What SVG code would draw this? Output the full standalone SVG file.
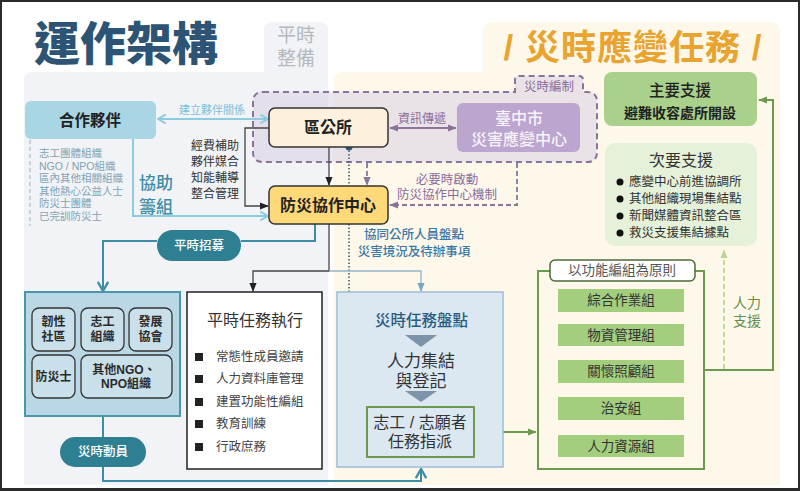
<svg xmlns="http://www.w3.org/2000/svg" width="800" height="491" viewBox="0 0 800 491">
<style>
text{font-family:"Liberation Sans","Noto Sans CJK TC","Noto Sans CJK SC",sans-serif;dominant-baseline:central;text-anchor:middle;fill:#333}
.st{text-anchor:start}
.b{font-weight:700}
.m{font-weight:500}
.lst{font-size:10.5px;fill:#7fa3b5}
.pur{fill:#8a6d9e;font-size:12.5px}
.sq{fill:#222}
.unit{fill:#c9dfe9;stroke:#333;stroke-width:1.3}
.unit-t{font-size:12px;font-weight:700;fill:#2a2a2a}
.bar{fill:#a2ce7e}
.bar-t{font-size:13.5px;fill:#333}
.pill{fill:#2f7f93}
.pill-t{font-size:12.5px;fill:#fff;font-weight:500}
.tri{fill:#7d93aa}
.lb{fill:none;stroke:#8ccbe0;stroke-width:2}
.dk{fill:none;stroke:#444;stroke-width:1.3}
.pl{fill:none;stroke:#8b7399;stroke-width:1.8}
.pld{fill:none;stroke:#8b7399;stroke-width:1.8;stroke-dasharray:5 3}
.tl{fill:none;stroke:#3d8ea5;stroke-width:2}
.gr{fill:none;stroke:#6e9a4f;stroke-width:2}
</style>
<defs>
<marker id="aLb" viewBox="0 0 10 10" refX="9" refY="5" markerWidth="11" markerHeight="11" markerUnits="userSpaceOnUse" orient="auto-start-reverse"><path d="M2,1 L9,5 L2,9" fill="none" stroke="#8ccbe0" stroke-width="1.8"/></marker>
<marker id="aTl" viewBox="0 0 10 10" refX="9" refY="5" markerWidth="13" markerHeight="13" markerUnits="userSpaceOnUse" orient="auto-start-reverse"><path d="M2,1 L9,5 L2,9" fill="none" stroke="#3d8ea5" stroke-width="1.8"/></marker>
<marker id="aBk" viewBox="0 0 10 10" refX="9" refY="5" markerWidth="9" markerHeight="9" markerUnits="userSpaceOnUse" orient="auto-start-reverse"><path d="M0,1 L10,5 L0,9 z" fill="#222"/></marker>
<marker id="aPu" viewBox="0 0 10 10" refX="9" refY="5" markerWidth="9" markerHeight="9" markerUnits="userSpaceOnUse" orient="auto-start-reverse"><path d="M0,1 L10,5 L0,9 z" fill="#8b7399"/></marker>
<marker id="aGr" viewBox="0 0 10 10" refX="9" refY="5" markerWidth="9" markerHeight="9" markerUnits="userSpaceOnUse" orient="auto-start-reverse"><path d="M0,1 L10,5 L0,9 z" fill="#6e9a4f"/></marker>
<marker id="aLg" viewBox="0 0 10 10" refX="9" refY="5" markerWidth="9" markerHeight="9" markerUnits="userSpaceOnUse" orient="auto-start-reverse"><path d="M0,1 L10,5 L0,9 z" fill="#bcd597"/></marker>
<marker id="aBl" viewBox="0 0 10 10" refX="9" refY="5" markerWidth="9" markerHeight="9" markerUnits="userSpaceOnUse" orient="auto-start-reverse"><path d="M0,1 L10,5 L0,9 z" fill="#7aa2c4"/></marker>
</defs>

<rect width="800" height="491" fill="#fff"/>

<!-- background panels -->
<g id="bg-peace">
<path d="M24,80 Q24,72 32,72 L264,72 L264,30 Q264,22 272,22 L320,22 Q328,22 328,30 L328,485 L24,485 Z" fill="#f1f3f6"/>
</g>
<g id="bg-disaster">
<path d="M333,82 Q333,72 343,72 L483,72 L483,32 Q483,22 493,22 L770,22 Q780,22 780,32 L780,485 L333,485 Z" fill="#fdf8ea"/>
</g>

<!-- titles -->
<g id="titles">
<text x="126" y="44" class="b" style="font-size:46px;fill:#2d5475;font-weight:900">運作架構</text>
<text x="296" y="35" style="font-size:19px;fill:#b5b9bd">平時</text>
<text x="296" y="58" style="font-size:19px;fill:#b5b9bd">整備</text>
<text x="633" y="47" class="b" style="font-size:35px;fill:#e9a32f;letter-spacing:1px">/ 災時應變任務 /</text>
</g>

<!-- dashed disaster-organization region -->
<g id="wartime-region">
<path d="M263,92 L515,92 L515,80 Q515,76 519,76 L579,76 Q583,76 583,80 L583,92 L587,92 Q597,92 597,102 L597,152 Q597,162 587,162 L263,162 Q253,162 253,152 L253,102 Q253,92 263,92 Z" fill="#d9d0e2" fill-opacity="0.55" stroke="#8b7399" stroke-width="2" stroke-dasharray="6 4"/>
<text x="549" y="87" class="pur" style="font-size:12.5px">災時編制</text>
</g>

<!-- connectors -->
<g id="connectors">
<path class="lb" d="M158,119 H268" marker-start="url(#aLb)" marker-end="url(#aLb)"/>
<path class="lb" d="M133,139 V216 H268" marker-end="url(#aLb)"/>
<path class="dk" d="M269,128 H245 V206 H268" marker-end="url(#aBk)"/>
<path class="dk" d="M329,147 V185" marker-end="url(#aBk)"/>
<path class="pl" d="M390,128 H456" marker-start="url(#aPu)" marker-end="url(#aPu)"/>
<path class="pld" d="M367,163 V185" marker-end="url(#aPu)"/>
<path class="pld" d="M517,163 V205 H390" marker-end="url(#aPu)"/>
<path d="M349,147 V320 H362" fill="none" stroke="#2e5877" stroke-width="1.5" stroke-dasharray="1.5 2"/>
<circle cx="349" cy="147" r="3.5" fill="#2e5877"/>
<circle cx="366" cy="320" r="3.5" fill="#2e5877"/>
<path class="tl" d="M315,224 V241 H241"/>
<path class="tl" d="M157,241 H103 V291" marker-end="url(#aTl)"/>
<path class="dk" d="M329,224 V271 H253 V291" marker-end="url(#aBk)"/>
<path d="M329,271 H421 V291" fill="none" stroke="#93b4cc" stroke-width="1.3" marker-end="url(#aBl)"/>
<path class="tl" d="M103,416 V437"/>
<path class="tl" d="M103,467 V481 H421 V469" marker-end="url(#aTl)"/>
<path class="gr" d="M474,432 H536" marker-end="url(#aGr)"/>
<path class="gr" d="M704,370 H773 V100 H759" marker-end="url(#aGr)"/>
<path d="M724,369 V250" fill="none" stroke="#bcd597" stroke-width="1.8" stroke-dasharray="5 3" marker-end="url(#aLg)"/>
</g>

<!-- connector labels -->
<g id="labels">
<text x="212" y="110" style="font-size:11px;fill:#7fbfd6">建立夥伴關係</text>
<text x="215" y="146" style="font-size:12px">經費補助</text>
<text x="215" y="162" style="font-size:12px">夥伴媒合</text>
<text x="215" y="178" style="font-size:12px">知能輔導</text>
<text x="215" y="194" style="font-size:12px">整合管理</text>
<text x="156" y="183" class="m" style="font-size:17px;fill:#3d8da4">協助</text>
<text x="156" y="207" class="m" style="font-size:17px;fill:#3d8da4">籌組</text>
<text x="422" y="119" class="pur" style="font-size:12px">資訊傳遞</text>
<text x="447" y="179.5" class="pur">必要時啟動</text>
<text x="447" y="194.5" class="pur">防災協作中心機制</text>
<text x="414" y="235" class="m" style="font-size:12.5px;fill:#3a78a8">協同公所人員盤點</text>
<text x="414" y="252" class="m" style="font-size:12.5px;fill:#3a78a8">災害境況及待辦事項</text>
<text x="747" y="303" style="font-size:14px;fill:#6a8f4c">人力</text>
<text x="747" y="321" style="font-size:14px;fill:#6a8f4c">支援</text>
</g>

<g id="partner">
<rect x="25" y="101" width="131" height="38" rx="6" fill="#a9d6e4"/>
<text x="90" y="120" class="b" style="font-size:15.5px;fill:#222">合作夥伴</text>
<line x1="30" y1="140" x2="30" y2="226" stroke="#a9c3cf" stroke-width="1.3" stroke-dasharray="4 3"/>
<text x="39" y="153" class="st lst">志工團體組織</text>
<text x="39" y="165.6" class="st lst">NGO / NPO組織</text>
<text x="39" y="178.2" class="st lst">區內其他相關組織</text>
<text x="39" y="190.8" class="st lst">其他熱心公益人士</text>
<text x="39" y="203.4" class="st lst">防災士團體</text>
<text x="39" y="216" class="st lst">已完訓防災士</text>
</g>

<g id="district-office">
<rect x="269" y="108" width="119" height="39" rx="6" fill="#fdf0dc" stroke="#333" stroke-width="1.5"/>
<text x="328" y="127" class="b" style="font-size:16px;fill:#222">區公所</text>
</g>

<g id="coop-center">
<rect x="269" y="186" width="119" height="38" rx="6" fill="#fdd97a" stroke="#333" stroke-width="1.5"/>
<text x="328" y="205" class="b" style="font-size:16px;fill:#222">防災協作中心</text>
</g>

<g id="city-eoc">
<rect x="457" y="103" width="123" height="49" rx="6" fill="#bca6d0"/>
<text x="519" y="118" class="m" style="font-size:16px;fill:#f7f3fa">臺中市</text>
<text x="519" y="139" class="m" style="font-size:16px;fill:#f7f3fa">災害應變中心</text>
</g>

<g id="pill-recruit">
<rect x="157" y="230" width="84" height="31" rx="15.5" class="pill"/>
<text x="199" y="245.5" class="pill-t">平時招募</text>
</g>

<g id="org-panel">
<rect x="25" y="292" width="155" height="124" fill="#b9d7e4" stroke="#4a97ab" stroke-width="2"/>
<rect x="32" y="308" width="43" height="43" rx="7" class="unit"/>
<text x="53.5" y="322" class="unit-t">韌性</text>
<text x="53.5" y="337" class="unit-t">社區</text>
<rect x="81" y="308" width="43" height="43" rx="7" class="unit"/>
<text x="102.5" y="322" class="unit-t">志工</text>
<text x="102.5" y="337" class="unit-t">組織</text>
<rect x="129" y="308" width="43" height="43" rx="7" class="unit"/>
<text x="150.5" y="322" class="unit-t">發展</text>
<text x="150.5" y="337" class="unit-t">協會</text>
<rect x="32" y="355" width="43" height="43" rx="7" class="unit"/>
<text x="53.5" y="377" class="unit-t">防災士</text>
<rect x="81" y="355" width="91" height="43" rx="7" class="unit"/>
<text x="124" y="370" class="unit-t">其他NGO、</text>
<text x="126" y="384" class="unit-t">NPO組織</text>
</g>

<g id="pill-mobilize">
<rect x="60" y="437" width="86" height="30" rx="15" class="pill"/>
<text x="103" y="452" class="pill-t">災時動員</text>
</g>

<g id="peace-tasks">
<rect x="187" y="292" width="135" height="177" fill="#fff" stroke="#222" stroke-width="1.5"/>
<text x="255" y="320" style="font-size:16px;fill:#333">平時任務執行</text>
<rect x="195" y="353" width="8" height="8" class="sq"/>
<text x="216" y="357" class="st" style="font-size:12.5px;fill:#444">常態性成員邀請</text>
<rect x="195" y="375" width="8" height="8" class="sq"/>
<text x="216" y="379" class="st" style="font-size:12.5px;fill:#444">人力資料庫管理</text>
<rect x="195" y="398" width="8" height="8" class="sq"/>
<text x="216" y="402" class="st" style="font-size:12.5px;fill:#444">建置功能性編組</text>
<rect x="195" y="420" width="8" height="8" class="sq"/>
<text x="216" y="424" class="st" style="font-size:12.5px;fill:#444">教育訓練</text>
<rect x="195" y="443" width="8" height="8" class="sq"/>
<text x="216" y="447" class="st" style="font-size:12.5px;fill:#444">行政庶務</text>
</g>

<g id="disaster-inventory">
<rect x="337" y="292" width="166" height="175" fill="#dbe7f1" stroke="#9fbcd3" stroke-width="1.5"/>
<text x="375" y="320" class="st m" style="font-size:15.5px;fill:#2a5b82">災時任務盤點</text>
<path d="M405,335 H437 L421,347 Z" class="tri"/>
<text x="421" y="361" style="font-size:17px;fill:#333">人力集結</text>
<text x="421" y="381" style="font-size:17px;fill:#333">與登記</text>
<path d="M405,391 H437 L421,402 Z" class="tri"/>
</g>

<g id="volunteer-assign">
<rect x="367" y="407" width="107" height="50" fill="#dbe7f1" stroke="#6e9a4f" stroke-width="2"/>
<text x="420" y="422" style="font-size:16px;fill:#333">志工 / 志願者</text>
<text x="420" y="441" style="font-size:16px;fill:#333">任務指派</text>
</g>

<g id="function-groups">
<rect x="538" y="271" width="166" height="198" fill="none" stroke="#6e9a4f" stroke-width="2"/>
<rect x="550" y="260" width="145" height="21" rx="5" fill="#fff" stroke="#4e6b3a" stroke-width="1.5"/>
<text x="622" y="270.5" style="font-size:13.5px;fill:#555">以功能編組為原則</text>
<rect x="558" y="289" width="126" height="23" class="bar"/>
<text x="621" y="300.5" class="bar-t">綜合作業組</text>
<rect x="558" y="324" width="126" height="22" class="bar"/>
<text x="621" y="335" class="bar-t">物資管理組</text>
<rect x="558" y="360" width="126" height="23" class="bar"/>
<text x="621" y="371.5" class="bar-t">關懷照顧組</text>
<rect x="558" y="397" width="126" height="23" class="bar"/>
<text x="621" y="408.5" class="bar-t">治安組</text>
<rect x="558" y="435" width="126" height="22" class="bar"/>
<text x="621" y="446" class="bar-t">人力資源組</text>
</g>

<g id="primary-support">
<rect x="604" y="72" width="153" height="54" rx="8" fill="#a9d18c"/>
<text x="680" y="90" class="m" style="font-size:15.5px;fill:#222">主要支援</text>
<text x="680" y="113" class="b" style="font-size:14px;fill:#222">避難收容處所開設</text>
</g>

<g id="secondary-support">
<rect x="605" y="143" width="152" height="103" rx="10" fill="#e5f1d9"/>
<text x="681" y="160" style="font-size:16px;fill:#333">次要支援</text>
<circle cx="620" cy="182" r="3.5" fill="#111"/>
<text x="629" y="182" class="st" style="font-size:12.5px;fill:#333">應變中心前進協調所</text>
<circle cx="620" cy="199" r="3.5" fill="#111"/>
<text x="629" y="199" class="st" style="font-size:12.5px;fill:#333">其他組織現場集結點</text>
<circle cx="620" cy="216" r="3.5" fill="#111"/>
<text x="629" y="216" class="st" style="font-size:12.5px;fill:#333">新聞媒體資訊整合區</text>
<circle cx="620" cy="233" r="3.5" fill="#111"/>
<text x="629" y="233" class="st" style="font-size:12.5px;fill:#333">救災支援集結據點</text>
</g>

<g id="frame">
<rect x="1" y="1" width="798" height="488" fill="none" stroke="#2b2b2b" stroke-width="2"/>
<line x1="0" y1="489.5" x2="800" y2="489.5" stroke="#2b2b2b" stroke-width="3"/>
</g>
</svg>
